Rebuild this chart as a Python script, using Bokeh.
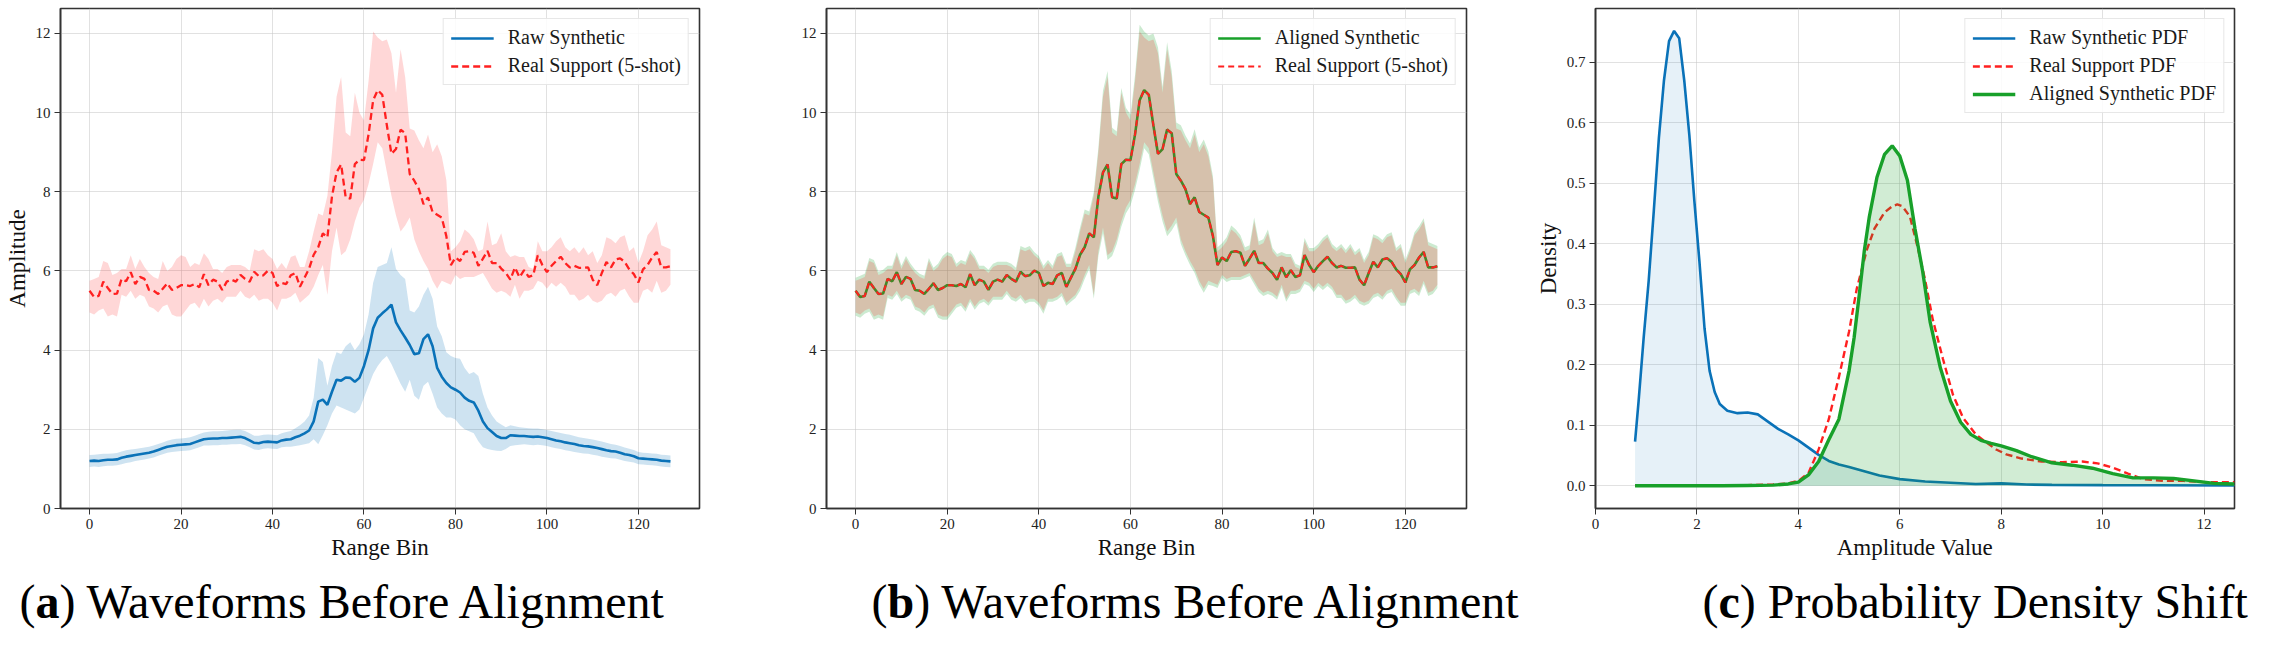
from bokeh.plotting import figure
from bokeh.models import ColumnDataSource, Range1d, PrintfTickFormatter
from bokeh.layouts import row, column
from bokeh.core.properties import value
from bokeh.embed import file_html
from bokeh.resources import INLINE

SERIF = "Liberation Serif"
BLUE = "#0a72b8"
RED = "#ff2020"
GREEN = "#18a02a"

## Waveforms : mean and band of each series, 128 range bins
real_mean = [5.50, 5.34, 5.37, 5.73, 5.57, 5.42, 5.43, 5.80, 5.74, 5.97,
             5.67, 5.85, 5.80, 5.52, 5.50, 5.42, 5.55, 5.69, 5.52, 5.57,
             5.64, 5.64, 5.62, 5.67, 5.59, 5.92, 5.64, 5.78, 5.73, 5.52,
             5.73, 5.78, 5.73, 5.90, 5.80, 5.73, 5.98, 5.87, 5.89, 6.01,
             5.95, 5.62, 5.70, 5.67, 5.89, 5.95, 5.60, 5.83, 6.06, 6.41,
             6.60, 6.95, 6.85, 7.88, 8.49, 8.69, 7.86, 7.83, 8.70, 8.81,
             8.80, 9.45, 10.31, 10.57, 10.45, 9.68, 8.96, 9.08, 9.57, 9.48,
             8.45, 8.28, 8.07, 7.69, 7.86, 7.49, 7.42, 7.35, 6.88, 6.15,
             6.34, 6.25, 6.48, 6.50, 6.46, 6.13, 6.31, 6.51, 6.20, 6.20,
             6.06, 5.95, 5.78, 6.09, 5.84, 6.02, 5.85, 5.89, 6.40, 6.15,
             5.97, 6.13, 6.25, 6.36, 6.20, 6.09, 6.13, 6.08, 6.08, 6.09,
             5.78, 5.64, 5.95, 6.23, 6.09, 6.29, 6.32, 6.23, 6.04, 5.92,
             5.71, 6.04, 6.15, 6.34, 6.48, 6.09, 6.09, 6.12]
real_upper = [5.75, 5.80, 5.85, 6.25, 6.20, 5.90, 5.95, 6.05, 6.05, 6.40,
              6.05, 6.30, 6.10, 5.95, 5.85, 5.80, 6.25, 6.00, 6.10, 6.30,
              6.40, 6.35, 6.10, 6.20, 6.15, 6.45, 6.30, 6.05, 6.05, 5.95,
              6.10, 6.15, 6.15, 6.15, 6.10, 6.00, 6.55, 6.50, 6.55, 6.40,
              6.30, 6.05, 6.20, 6.05, 6.35, 6.40, 6.10, 6.10, 6.50, 7.00,
              7.45, 7.40, 7.90, 9.00, 10.40, 10.90, 9.50, 9.40, 10.50, 10.00,
              9.80, 10.80, 12.05, 11.90, 11.80, 11.85, 11.50, 10.50, 11.60, 10.90,
              9.60, 9.55, 9.30, 9.10, 9.45, 9.00, 9.20, 8.90, 8.30, 6.50,
              6.60, 6.75, 7.05, 6.95, 6.80, 6.50, 6.55, 7.25, 6.65, 6.70,
              6.95, 6.50, 6.35, 6.40, 6.35, 6.35, 6.10, 6.05, 6.75, 6.50,
              6.50, 6.60, 6.75, 6.85, 6.60, 6.50, 6.60, 6.45, 6.60, 6.40,
              6.50, 6.20, 6.40, 6.85, 6.80, 6.70, 6.85, 6.90, 6.50, 6.60,
              6.20, 6.50, 6.90, 7.05, 7.25, 6.65, 6.60, 6.55]
real_lower = [4.95, 4.90, 5.00, 5.05, 4.85, 4.90, 4.85, 5.40, 5.35, 5.50,
              5.30, 5.40, 5.35, 5.10, 5.05, 4.95, 5.10, 5.15, 4.90, 4.85,
              4.85, 5.00, 5.15, 5.20, 5.05, 5.30, 5.10, 5.25, 5.30, 5.20,
              5.35, 5.35, 5.35, 5.50, 5.35, 5.30, 5.40, 5.25, 5.30, 5.30,
              5.20, 5.00, 5.30, 5.30, 5.35, 5.45, 5.20, 5.30, 5.40, 5.60,
              5.90, 6.15, 5.40, 6.50, 7.10, 6.40, 6.50, 6.80, 7.25, 7.60,
              7.80, 8.20, 8.70, 9.25, 9.10, 8.50, 7.90, 7.40, 7.00, 7.15,
              7.35, 6.80, 6.50, 6.25, 6.05, 5.75, 5.55, 5.75, 5.70, 5.65,
              5.90, 5.80, 5.85, 5.85, 5.85, 5.90, 5.95, 5.75, 5.55, 5.45,
              5.50, 5.45, 5.35, 5.65, 5.30, 5.50, 5.50, 5.55, 5.75, 5.70,
              5.55, 5.70, 5.60, 5.70, 5.60, 5.40, 5.40, 5.25, 5.30, 5.40,
              5.25, 5.20, 5.25, 5.40, 5.45, 5.35, 5.50, 5.55, 5.35, 5.20,
              5.20, 5.50, 5.55, 5.45, 5.75, 5.45, 5.50, 5.65]

raw_mean = [1.20, 1.21, 1.20, 1.22, 1.23, 1.23, 1.24, 1.28, 1.31, 1.33,
            1.35, 1.37, 1.39, 1.41, 1.44, 1.48, 1.52, 1.56, 1.58, 1.60,
            1.61, 1.62, 1.63, 1.67, 1.71, 1.75, 1.76, 1.77, 1.77, 1.78,
            1.78, 1.79, 1.80, 1.81, 1.78, 1.72, 1.66, 1.65, 1.68, 1.69,
            1.68, 1.67, 1.72, 1.74, 1.75, 1.80, 1.84, 1.90, 1.97, 2.20,
            2.70, 2.75, 2.62, 2.95, 3.25, 3.23, 3.31, 3.30, 3.20, 3.30,
            3.60, 4.00, 4.55, 4.82, 4.93, 5.03, 5.15, 4.70, 4.50, 4.32,
            4.13, 3.90, 3.92, 4.28, 4.40, 4.10, 3.55, 3.33, 3.17, 3.06,
            3.00, 2.93, 2.80, 2.72, 2.68, 2.47, 2.20, 2.03, 1.93, 1.83,
            1.78, 1.78, 1.85, 1.84, 1.83, 1.83, 1.82, 1.81, 1.82, 1.80,
            1.78, 1.75, 1.72, 1.70, 1.67, 1.65, 1.63, 1.60, 1.58, 1.57,
            1.55, 1.53, 1.50, 1.47, 1.45, 1.44, 1.41, 1.37, 1.35, 1.32,
            1.27, 1.26, 1.25, 1.24, 1.23, 1.21, 1.20, 1.19]
raw_upper = [1.35, 1.36, 1.37, 1.38, 1.38, 1.39, 1.40, 1.44, 1.47, 1.49,
             1.50, 1.52, 1.54, 1.56, 1.59, 1.63, 1.67, 1.71, 1.74, 1.76,
             1.77, 1.78, 1.80, 1.84, 1.88, 1.92, 1.94, 1.95, 1.95, 1.96,
             1.97, 1.98, 1.99, 1.99, 1.96, 1.90, 1.84, 1.84, 1.86, 1.87,
             1.86, 1.85, 1.90, 1.93, 1.96, 2.03, 2.10, 2.20, 2.35, 2.80,
             3.80, 3.70, 3.10, 3.60, 3.95, 3.90, 4.10, 4.20, 4.00, 4.15,
             4.40, 4.90, 5.70, 6.10, 6.15, 6.20, 6.60, 6.05, 5.90, 5.80,
             5.00, 4.95, 5.10, 5.40, 5.60, 5.30, 4.60, 4.35, 3.95, 3.85,
             3.80, 3.78, 3.55, 3.40, 3.45, 3.35, 2.90, 2.55, 2.35, 2.20,
             2.12, 2.05, 2.10, 2.08, 2.05, 2.04, 2.03, 2.02, 2.02, 2.00,
             1.98, 1.96, 1.93, 1.91, 1.88, 1.86, 1.83, 1.80, 1.78, 1.76,
             1.74, 1.72, 1.69, 1.66, 1.63, 1.61, 1.58, 1.54, 1.51, 1.48,
             1.43, 1.41, 1.40, 1.39, 1.38, 1.36, 1.35, 1.34]
raw_lower = [1.05, 1.06, 1.05, 1.07, 1.08, 1.08, 1.09, 1.12, 1.15, 1.17,
             1.20, 1.22, 1.24, 1.26, 1.29, 1.33, 1.37, 1.41, 1.43, 1.44,
             1.45, 1.46, 1.47, 1.51, 1.55, 1.59, 1.59, 1.60, 1.60, 1.61,
             1.61, 1.62, 1.62, 1.63, 1.60, 1.55, 1.49, 1.48, 1.51, 1.52,
             1.51, 1.50, 1.55, 1.56, 1.56, 1.58, 1.60, 1.62, 1.65, 1.75,
             1.62, 1.85, 2.10, 2.40, 2.60, 2.55, 2.50, 2.45, 2.40, 2.50,
             2.80, 3.10, 3.40, 3.60, 3.75, 3.85, 3.65, 3.40, 3.15, 2.95,
             3.25, 2.85, 2.75, 3.10, 3.20, 2.90, 2.55, 2.40, 2.30, 2.30,
             2.25, 2.10, 2.00, 1.95, 1.90, 1.70, 1.55, 1.50, 1.48, 1.46,
             1.45, 1.50, 1.58, 1.60, 1.61, 1.62, 1.61, 1.60, 1.61, 1.60,
             1.58, 1.55, 1.52, 1.50, 1.47, 1.45, 1.43, 1.41, 1.39, 1.38,
             1.36, 1.34, 1.31, 1.29, 1.27, 1.26, 1.23, 1.20, 1.18, 1.16,
             1.12, 1.11, 1.10, 1.09, 1.08, 1.06, 1.05, 1.04]

# la moyenne alignée se superpose exactement à la moyenne réelle
aligned_mean = list(real_mean)
aligned_upper = [5.83, 5.88, 5.93, 6.33, 6.28, 5.98, 6.03, 6.13, 6.13, 6.48,
                 6.13, 6.38, 6.18, 6.03, 5.93, 5.88, 6.33, 6.08, 6.18, 6.38,
                 6.48, 6.43, 6.18, 6.28, 6.23, 6.53, 6.38, 6.13, 6.13, 6.03,
                 6.18, 6.23, 6.23, 6.23, 6.18, 6.08, 6.63, 6.58, 6.63, 6.48,
                 6.38, 6.13, 6.28, 6.13, 6.43, 6.48, 6.18, 6.18, 6.60, 7.10,
                 7.55, 7.50, 8.00, 9.12, 10.55, 11.05, 9.62, 9.52, 10.62, 10.12,
                 9.95, 10.95, 12.22, 12.05, 11.95, 12.00, 11.65, 10.65, 11.78, 11.05,
                 9.75, 9.68, 9.42, 9.22, 9.58, 9.12, 9.32, 9.02, 8.40, 6.60,
                 6.70, 6.85, 7.15, 7.05, 6.90, 6.60, 6.65, 7.35, 6.75, 6.80,
                 7.05, 6.58, 6.43, 6.48, 6.43, 6.43, 6.18, 6.13, 6.83, 6.58,
                 6.58, 6.68, 6.83, 6.93, 6.68, 6.58, 6.68, 6.53, 6.68, 6.48,
                 6.58, 6.28, 6.48, 6.93, 6.88, 6.78, 6.93, 6.98, 6.58, 6.68,
                 6.28, 6.58, 6.98, 7.13, 7.33, 6.73, 6.68, 6.63]
aligned_lower = [4.87, 4.82, 4.92, 4.97, 4.77, 4.82, 4.77, 5.32, 5.27, 5.42,
                 5.22, 5.32, 5.27, 5.02, 4.97, 4.87, 5.02, 5.07, 4.82, 4.77,
                 4.77, 4.92, 5.07, 5.12, 4.97, 5.22, 5.02, 5.17, 5.22, 5.12,
                 5.27, 5.27, 5.27, 5.42, 5.27, 5.22, 5.32, 5.17, 5.22, 5.22,
                 5.12, 4.92, 5.22, 5.22, 5.27, 5.37, 5.12, 5.22, 5.32, 5.50,
                 5.80, 6.05, 5.30, 6.38, 6.95, 6.28, 6.38, 6.68, 7.12, 7.45,
                 7.65, 8.05, 8.55, 9.10, 8.95, 8.35, 7.75, 7.25, 6.88, 7.02,
                 7.22, 6.68, 6.40, 6.15, 5.95, 5.65, 5.45, 5.65, 5.62, 5.57,
                 5.82, 5.72, 5.77, 5.77, 5.77, 5.82, 5.87, 5.67, 5.47, 5.37,
                 5.42, 5.37, 5.27, 5.57, 5.22, 5.42, 5.42, 5.47, 5.67, 5.62,
                 5.47, 5.62, 5.52, 5.62, 5.52, 5.32, 5.32, 5.17, 5.22, 5.32,
                 5.17, 5.12, 5.17, 5.32, 5.37, 5.27, 5.42, 5.47, 5.27, 5.12,
                 5.12, 5.42, 5.47, 5.37, 5.67, 5.37, 5.42, 5.57]

range_bins = list(range(len(real_mean)))

## Densités (KDE)
raw_pdf_x = [0.78, 0.85, 0.95, 1.05, 1.15, 1.25, 1.35, 1.45, 1.55, 1.65,
             1.75, 1.85, 1.95, 2.05, 2.15, 2.25, 2.35, 2.45, 2.6, 2.8,
             3.0, 3.2, 3.4, 3.6, 3.8, 4.0, 4.2, 4.4, 4.6, 4.8,
             5.0, 5.3, 5.6, 6.0, 6.5, 7.0, 7.5, 8.0, 8.5, 9.0,
             10.0, 11.0, 12.6]
raw_pdf_y = [0.073, 0.14, 0.245, 0.34, 0.455, 0.575, 0.67, 0.735, 0.752, 0.74,
             0.67, 0.58, 0.47, 0.37, 0.26, 0.19, 0.155, 0.135, 0.124, 0.120,
             0.121, 0.118, 0.106, 0.094, 0.085, 0.075, 0.063, 0.051, 0.041, 0.035,
             0.031, 0.024, 0.017, 0.011, 0.007, 0.005, 0.003, 0.004, 0.002, 0.0015,
             0.001, 0.0008, 0.0005]
real_pdf_x = [0.78, 2.0, 3.0, 3.5, 3.8, 4.0, 4.2, 4.4, 4.6, 4.8,
              5.0, 5.15, 5.35, 5.5, 5.7, 5.85, 5.95, 6.05, 6.2, 6.35,
              6.5, 6.65, 6.85, 7.05, 7.25, 7.5, 7.7, 7.9, 8.1, 8.4,
              8.8, 9.2, 9.6, 9.9, 10.2, 10.5, 10.8, 11.2, 11.6, 12.0,
              12.6]
real_pdf_y = [0.0, 0.0, 0.001, 0.002, 0.004, 0.008, 0.021, 0.060, 0.110, 0.180,
              0.255, 0.325, 0.390, 0.425, 0.452, 0.462, 0.465, 0.462, 0.445, 0.395,
              0.340, 0.275, 0.210, 0.150, 0.112, 0.085, 0.072, 0.060, 0.052, 0.045,
              0.040, 0.039, 0.040, 0.037, 0.030, 0.020, 0.011, 0.008, 0.008, 0.006,
              0.006]
aligned_pdf_x = [0.78, 1.5, 2.5, 3.0, 3.5, 3.8, 4.0, 4.2, 4.4, 4.6,
                 4.8, 5.0, 5.1, 5.2, 5.3, 5.4, 5.55, 5.7, 5.85, 6.0,
                 6.15, 6.3, 6.45, 6.6, 6.8, 7.0, 7.2, 7.4, 7.6, 7.8,
                 8.0, 8.3, 8.6, 9.0, 9.4, 9.8, 10.2, 10.6, 11.0, 11.4,
                 11.8, 12.2, 12.6]
aligned_pdf_y = [0.0, 0.0, 0.0, 0.0005, 0.001, 0.003, 0.006, 0.018, 0.040, 0.076,
                 0.110, 0.190, 0.245, 0.315, 0.388, 0.445, 0.510, 0.548, 0.562, 0.545,
                 0.505, 0.425, 0.355, 0.270, 0.195, 0.140, 0.105, 0.085, 0.075, 0.070,
                 0.066, 0.058, 0.048, 0.038, 0.034, 0.029, 0.020, 0.013, 0.013, 0.012,
                 0.008, 0.004, 0.003]

## Graduations et légendes
bin_ticks = [0, 20, 40, 60, 80, 100, 120]
amp_ticks = [0, 2, 4, 6, 8, 10, 12]
value_ticks = [0, 2, 4, 6, 8, 10, 12]
density_ticks = [0.0, 0.1, 0.2, 0.3, 0.4, 0.5, 0.6, 0.7]
caption_letters = ["a", "b", "c"]
caption_texts = [") Waveforms Before Alignment", ") Waveforms Before Alignment",
                 ") Probability Density Shift"]


def make_panel(width, border_left, border_right, x_range, y_range,
               xlabel, ylabel, xticks, yticks):
    p = figure(width=width, height=567, x_range=x_range, y_range=y_range,
               output_backend="svg", toolbar_location=None,
               min_border_left=border_left, min_border_right=border_right,
               min_border_top=8, min_border_bottom=59)
    p.outline_line_color = "#333333"
    p.outline_line_width = 1.6
    p.xaxis.ticker = xticks
    p.yaxis.ticker = yticks
    p.xaxis.axis_label = xlabel
    if ylabel:
        p.yaxis.axis_label = ylabel
    for ax in p.axis:
        ax.axis_line_color = "#333333"
        ax.axis_line_width = 1.6
        ax.major_tick_line_color = "#333333"
        ax.major_tick_out = 6
        ax.major_tick_in = 0
        ax.minor_tick_line_color = None
        ax.major_label_text_font = SERIF
        ax.major_label_text_font_size = "15px"
        ax.major_label_text_color = "#222222"
        ax.major_label_standoff = 4
        ax.axis_label_text_font = SERIF
        ax.axis_label_text_font_size = "23px"
        ax.axis_label_text_font_style = "normal"
        ax.axis_label_text_color = "#111111"
        ax.axis_label_standoff = 3
    p.grid.grid_line_color = "#c8c8c8"
    p.grid.grid_line_alpha = 0.55
    return p


def style_legend(p):
    lg = p.legend
    lg.location = "top_right"
    lg.margin = 10
    lg.padding = 7
    lg.spacing = 5
    lg.label_text_font = SERIF
    lg.label_text_font_size = "20px"
    lg.label_text_color = "#1a1a1a"
    lg.label_height = 22
    lg.glyph_height = 22
    lg.glyph_width = 43
    lg.label_standoff = 14
    lg.border_line_color = "#d0d0d0"
    lg.border_line_width = 1
    lg.background_fill_alpha = 0.85


##############################################################################
## (a) avant alignement
src = ColumnDataSource(dict(bin=range_bins, real_mean=real_mean, real_upper=real_upper,
                            real_lower=real_lower, raw_mean=raw_mean, raw_upper=raw_upper,
                            raw_lower=raw_lower, aligned_mean=aligned_mean,
                            aligned_upper=aligned_upper, aligned_lower=aligned_lower))

pa = make_panel(762, 60, 63, Range1d(-6.35, 133.35), Range1d(0, 12.63),
                "Range Bin", "Amplitude", bin_ticks, amp_ticks)
pa.varea(x="bin", y1="raw_lower", y2="raw_upper", source=src, fill_color=BLUE, fill_alpha=0.2)
pa.line(x="bin", y="raw_mean", source=src, line_color=BLUE, line_width=2.6,
        legend_label="Raw Synthetic")
pa.varea(x="bin", y1="real_lower", y2="real_upper", source=src, fill_color=RED, fill_alpha=0.18)
pa.line(x="bin", y="real_mean", source=src, line_color=RED, line_width=2.3, line_dash="7 4",
        legend_label="Real Support (5-shot)")
style_legend(pa)

## (b) après alignement
pb = make_panel(770, 64, 66, Range1d(-6.35, 133.35), Range1d(0, 12.63),
                "Range Bin", None, bin_ticks, amp_ticks)
pb.varea(x="bin", y1="aligned_lower", y2="aligned_upper", source=src, fill_color=GREEN, fill_alpha=0.22)
pb.line(x="bin", y="aligned_mean", source=src, line_color=GREEN, line_width=2.6,
        legend_label="Aligned Synthetic")
pb.varea(x="bin", y1="real_lower", y2="real_upper", source=src, fill_color=RED, fill_alpha=0.2)
pb.line(x="bin", y="real_mean", source=src, line_color=RED, line_width=2.0, line_dash="6 4",
        legend_label="Real Support (5-shot)")
style_legend(pb)

## (c) densités
pc = make_panel(725, 62, 23, Range1d(0, 12.6), Range1d(-0.0376, 0.789),
                "Amplitude Value", "Density", value_ticks, density_ticks)
pc.yaxis.formatter = PrintfTickFormatter(format="%.1f")
pc.varea(x=raw_pdf_x, y1=[0] * len(raw_pdf_x), y2=raw_pdf_y, fill_color=BLUE, fill_alpha=0.1)
pc.line(x=raw_pdf_x, y=raw_pdf_y, line_color=BLUE, line_width=2.6, legend_label="Raw Synthetic PDF")
pc.line(x=real_pdf_x, y=real_pdf_y, line_color=RED, line_width=2.4, line_dash="7 4",
        legend_label="Real Support PDF")
pc.varea(x=aligned_pdf_x, y1=[0] * len(aligned_pdf_x), y2=aligned_pdf_y, fill_color=GREEN, fill_alpha=0.2)
pc.line(x=aligned_pdf_x, y=aligned_pdf_y, line_color=GREEN, line_width=3.4,
        legend_label="Aligned Synthetic PDF")
style_legend(pc)

##############################################################################
## Légendes des sous-figures (bande sans titre ni axes, 1 unité = 1 px)
cap_h = 67
cap = figure(width=2257, height=cap_h, x_range=Range1d(0, 2257), y_range=Range1d(0, cap_h),
             output_backend="svg", toolbar_location=None, min_border=0, title=None,
             x_axis_location=None, y_axis_location=None)
cap.grid.visible = False
cap.outline_line_color = None

cap_size = 48
cap_start = [19, 871, 1702]
bold_w = {"a": 0.5, "b": 0.556, "c": 0.444}
paren_w = 0.333 * cap_size
letter_x = [s + paren_w for s in cap_start]
rest_x = [lx + bold_w[c] * cap_size for lx, c in zip(letter_x, caption_letters)]
mid_y = [33, 33, 33]

common = dict(text_font=value(SERIF), text_font_size=f"{cap_size}px",
              text_baseline="middle", text_align="left", text_color="#000000")
cap.text(x=cap_start, y=mid_y, text=["(", "(", "("], **common)
cap.text(x=letter_x, y=mid_y, text=caption_letters, text_font_style="bold", **common)
cap.text(x=rest_x, y=mid_y, text=caption_texts, **common)

page = column(row(pa, pb, pc), cap)
open("out.html", "w").write(file_html(page, INLINE))
